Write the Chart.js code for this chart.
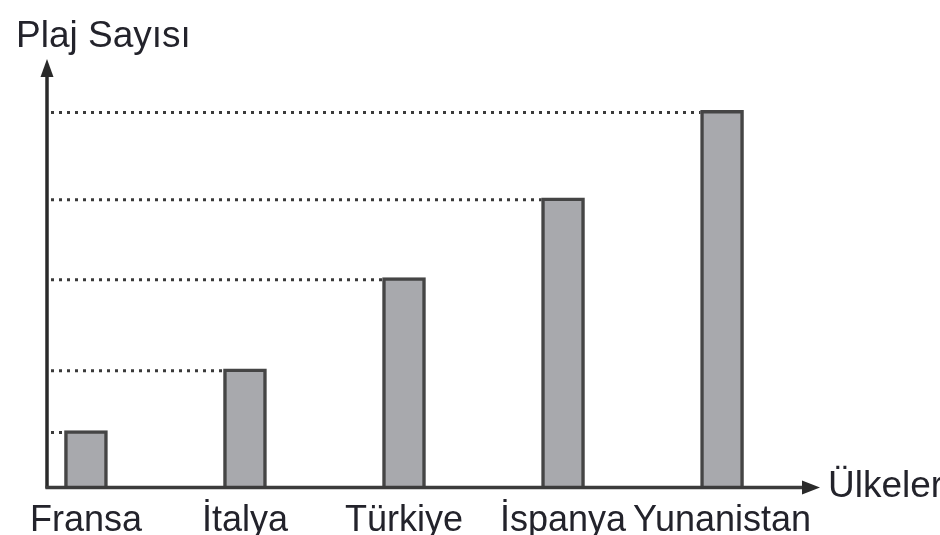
<!DOCTYPE html>
<html><head><meta charset="utf-8">
<script src="https://cdn.jsdelivr.net/npm/chart.js@4"></script>
<style>html,body{margin:0;padding:0;background:#fff} #wrap{width:940px;height:535px}</style>
</head><body><div id="wrap"><canvas id="c" width="940" height="535"></canvas></div>
<script>
const categories = ['Fransa', 'İtalya', 'Türkiye', 'İspanya', 'Yunanistan'];
const beachCounts = [3, 6.25, 11.05, 15.25, 19.85];
const yAxisTitle = 'Plaj Sayısı';
const xAxisTitle = 'Ülkeler';

const FONT = '"Liberation Sans", Arial, sans-serif';
const TEXT = '#23232b';
const AXIS = '#2a2a2a';

const deco = {
  id: 'deco',
  beforeDatasetsDraw(chart) {
    const {ctx, chartArea: a} = chart;
    const meta = chart.getDatasetMeta(0);
    ctx.save();
    ctx.strokeStyle = '#3a3a3a';
    ctx.lineWidth = 3;
    ctx.setLineDash([3, 5]);
    meta.data.forEach(bar => {
      const y = bar.y + 2;
      ctx.beginPath();
      ctx.moveTo(a.left + 4, y);
      ctx.lineTo(bar.x - bar.width / 2, y);
      ctx.stroke();
    });
    ctx.restore();
  },
  afterDatasetsDraw(chart) {
    const {ctx, chartArea: a} = chart;
    ctx.save();
    ctx.strokeStyle = AXIS;
    ctx.fillStyle = AXIS;
    ctx.lineWidth = 3.5;
    // y axis
    ctx.beginPath();
    ctx.moveTo(a.left, a.bottom + 1);
    ctx.lineTo(a.left, a.top + 12);
    ctx.stroke();
    ctx.beginPath();
    ctx.moveTo(a.left, a.top - 3);
    ctx.lineTo(a.left - 6.5, a.top + 15);
    ctx.lineTo(a.left + 6.5, a.top + 15);
    ctx.closePath();
    ctx.fill();
    // x axis
    ctx.strokeStyle = '#3c3c3c';
    ctx.beginPath();
    ctx.moveTo(a.left - 1.5, a.bottom);
    ctx.lineTo(a.right - 12, a.bottom);
    ctx.stroke();
    ctx.fillStyle = AXIS;
    ctx.beginPath();
    ctx.moveTo(a.right, a.bottom);
    ctx.lineTo(a.right - 18, a.bottom - 7);
    ctx.lineTo(a.right - 18, a.bottom + 7);
    ctx.closePath();
    ctx.fill();
    // texts
    ctx.fillStyle = TEXT;
    ctx.font = '37px ' + FONT;
    ctx.textBaseline = 'alphabetic';
    ctx.textAlign = 'left';
    ctx.fillText(yAxisTitle, a.left - 31, 47);
    ctx.fillText(xAxisTitle, a.right + 8, a.bottom + 9);
    ctx.restore();
  }
};

new Chart(document.getElementById('c'), {
  type: 'bar',
  data: {
    datasets: [{
      data: categories.map((c, i) => ({x: i, y: beachCounts[i]})),
      backgroundColor: '#a8a9ad',
      borderColor: '#454545',
      borderWidth: 3.5,
      barThickness: 43
    }]
  },
  options: {
    responsive: false,
    animation: false,
    layout: {padding: {left: 47, top: 62, right: 120, bottom: -19}},
    plugins: {legend: {display: false}, tooltip: {enabled: false}, title: {display: false}},
    scales: {
      x: {
        type: 'linear',
        min: -0.245,
        max: 4.616,
        offset: false,
        afterBuildTicks: s => { s.ticks = categories.map((_, i) => ({value: i})); },
        ticks: {
          callback: v => categories[v] ?? '',
          autoSkip: false,
          maxRotation: 0,
          minRotation: 0,
          color: TEXT,
          font: {family: FONT, size: 36, lineHeight: 1.622},
          padding: 4
        },
        grid: {display: false, drawTicks: false},
        border: {display: false}
      },
      y: {display: false, min: 0, max: 22.4}
    }
  },
  plugins: [deco]
});
</script>
</body></html>
